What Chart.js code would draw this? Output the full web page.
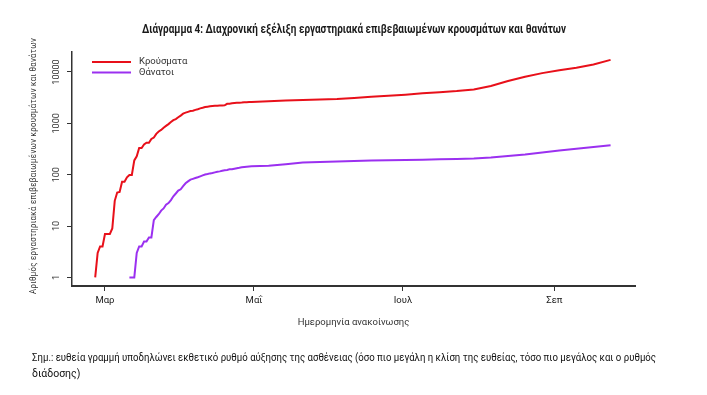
<!DOCTYPE html>
<html>
<head>
<meta charset="utf-8">
<script src="https://cdn.jsdelivr.net/npm/chart.js@4/dist/chart.umd.min.js"></script>
<style>
  html, body { margin: 0; padding: 0; background: #fff; }
  #wrap { position: relative; width: 707px; height: 395px; }
</style>
</head>
<body>
<div id="wrap"><canvas id="chart" width="707" height="395"></canvas></div>
<script>
// days counted from 26 Feb 2020 (first case)
const caseDays = [0, 1, 2, 3, 4, 5, 6, 7, 8, 9, 10, 11, 12, 13, 14, 15, 16, 17, 18, 19,
  20, 21, 22, 23, 24, 25, 26, 27, 28, 29, 30, 31, 32, 33, 34, 35, 36, 37, 38, 39,
  40, 41, 42, 43, 44, 45, 46, 47, 48, 49, 50, 51, 52, 53, 54, 55, 56, 57, 58, 59,
  60, 61, 62, 63, 64, 71, 78, 85, 92, 99, 106, 113, 120, 127, 134, 141, 148, 155,
  162, 169, 176, 183, 190, 197, 204, 211];
const caseValues = [1, 3, 4, 4, 7, 7, 7, 9, 31, 45, 46, 73, 73, 89, 99, 99, 190, 228, 331, 331,
  387, 418, 418, 495, 530, 624, 695, 743, 821, 892, 966, 1061, 1156, 1212, 1314, 1415, 1544, 1613, 1673, 1735,
  1755, 1832, 1884, 1955, 2011, 2081, 2114, 2145, 2170, 2192, 2207, 2224, 2235, 2245, 2401, 2408, 2463, 2490, 2506, 2517,
  2534, 2566, 2576, 2591, 2612, 2690, 2780, 2860, 2920, 2990, 3120, 3290, 3450, 3620, 3860, 4050, 4250, 4560,
  5350, 6650, 8050, 9500, 10800, 12100, 14000, 17200];

const deathDays = [14, 15, 16, 17, 18, 19, 20, 21, 22, 23, 24, 25, 26, 27, 28, 29, 30, 31, 32, 33,
  34, 35, 36, 37, 38, 39, 40, 41, 42, 43, 44, 45, 46, 47, 48, 49, 50, 51, 52, 53,
  54, 55, 56, 57, 58, 59, 60, 61, 62, 63, 64, 71, 78, 85, 92, 99, 106, 113, 120, 127,
  134, 141, 148, 155, 162, 169, 176, 183, 190, 197, 204, 211];
const deathValues = [1, 1, 1, 3, 4, 4, 5, 5, 6, 6, 13, 15, 17, 20, 22, 26, 28, 32, 38, 43,
  49, 52, 60, 68, 74, 80, 83, 86, 89, 93, 97, 101, 103, 106, 108, 111, 114, 116, 119, 122,
  124, 127, 128, 131, 134, 136, 139, 141, 143, 145, 146, 150, 160, 172, 177, 181, 184, 188, 192, 194,
  196, 200, 203, 207, 215, 232, 248, 270, 295, 320, 345, 375];

const monthTicks = [4, 65, 126, 188];
const monthLabels = ['Μαρ', 'Μαΐ', 'Ιουλ', 'Σεπ'];
const yTicks = [1, 10, 100, 1000, 10000];
const seriesNames = ['Κρούσματα', 'Θάνατοι'];
const seriesColors = ['#e8101a', '#9b30f0'];

const chartTitle = 'Διάγραμμα 4: Διαχρονική εξέλιξη εργαστηριακά επιβεβαιωμένων κρουσμάτων και θανάτων';
const xTitle = 'Ημερομηνία ανακοίνωσης';
const yTitle = 'Αριθμός εργαστηριακά επιβεβαιωμένων κρουσμάτων και θανάτων';
const noteLines = [
  'Σημ.: ευθεία γραμμή υποδηλώνει εκθετικό ρυθμό αύξησης της ασθένειας (όσο πιο μεγάλη η κλίση της ευθείας, τόσο πιο μεγάλος και ο ρυθμός',
  'διάδοσης)'
];

const FONT = 'Roboto, "Open Sans", sans-serif';
const NARROW = '"Liberation Sans Narrow", Roboto, sans-serif';

function toPoints(days, values) {
  return days.map((d, i) => ({ x: d, y: values[i] }));
}

// text, legend and rotated y labels
const decor = {
  id: 'decor',
  afterDraw(chart) {
    const c = chart.ctx;
    const area = chart.chartArea;
    const yScale = chart.scales.y;
    c.save();
    c.fillStyle = '#1a1a1a';
    c.textAlign = 'center';
    c.textBaseline = 'middle';

    c.font = 'bold 12.5px ' + NARROW;
    c.fillText(chartTitle, 354, 30, 424);

    // legend
    c.font = '9.5px ' + FONT;
    c.textAlign = 'left';
    chart.data.datasets.forEach((ds, i) => {
      const y = 62 + i * 10.5;
      c.strokeStyle = ds.borderColor;
      c.lineWidth = 2;
      c.beginPath();
      c.moveTo(92, y);
      c.lineTo(131, y);
      c.stroke();
      c.fillStyle = '#333';
      c.fillText(ds.label, 139, y);
    });

    // y tick labels, rotated like the original
    c.font = '9px ' + FONT;
    c.textAlign = 'center';
    yTicks.forEach(v => {
      const py = yScale.getPixelForValue(v);
      c.save();
      c.translate(57, py);
      c.rotate(-Math.PI / 2);
      c.fillText(String(v), 0, 0);
      c.restore();
    });

    // y axis title
    c.font = '9.5px ' + FONT;
    c.save();
    c.translate(34, 166);
    c.rotate(-Math.PI / 2);
    if ('letterSpacing' in c) c.letterSpacing = '0.4px';
    c.fillText(yTitle, 0, 0, 256);
    c.restore();

    // x axis title
    c.font = '9.5px ' + FONT;
    c.fillText(xTitle, (area.left + area.right) / 2, 323);

    // note under the chart
    c.font = '10.5px ' + FONT;
    c.textAlign = 'left';
    c.fillStyle = '#111';
    c.fillText(noteLines[0], 32, 358, 624);
    c.fillText(noteLines[1], 32, 374);
    c.restore();
  }
};

new Chart(document.getElementById('chart'), {
  type: 'line',
  data: {
    datasets: [
      {
        label: seriesNames[0],
        data: toPoints(caseDays, caseValues),
        borderColor: seriesColors[0],
        borderWidth: 2,
        pointRadius: 0,
        tension: 0
      },
      {
        label: seriesNames[1],
        data: toPoints(deathDays, deathValues),
        borderColor: seriesColors[1],
        borderWidth: 2,
        pointRadius: 0,
        tension: 0
      }
    ]
  },
  options: {
    responsive: false,
    animation: false,
    layout: { padding: { top: 52, right: 72, left: 0, bottom: 0 } },
    plugins: {
      legend: { display: false },
      tooltip: { enabled: false },
      title: { display: false }
    },
    scales: {
      x: {
        type: 'linear',
        min: -9.5,
        max: 221,
        afterBuildTicks: s => { s.ticks = monthTicks.map(v => ({ value: v })); },
        afterFit: s => { s.height = 109; },
        ticks: {
          callback: v => monthLabels[monthTicks.indexOf(v)],
          font: { size: 9.5, family: FONT },
          color: '#222',
          padding: 4,
          maxRotation: 0,
          autoSkip: false
        },
        grid: { drawOnChartArea: false, drawTicks: true, tickLength: 5, tickColor: '#333' },
        border: { display: true, color: '#333', width: 2 }
      },
      y: {
        type: 'logarithmic',
        min: 0.68,
        max: 24500,
        afterBuildTicks: s => { s.ticks = yTicks.map(v => ({ value: v })); },
        afterFit: s => { s.width = 72; },
        ticks: { display: false },
        grid: { drawOnChartArea: false, drawTicks: true, tickLength: 5, tickColor: '#333' },
        border: { display: true, color: '#333', width: 1.5 }
      }
    }
  },
  plugins: [decor]
});
</script>
</body>
</html>
